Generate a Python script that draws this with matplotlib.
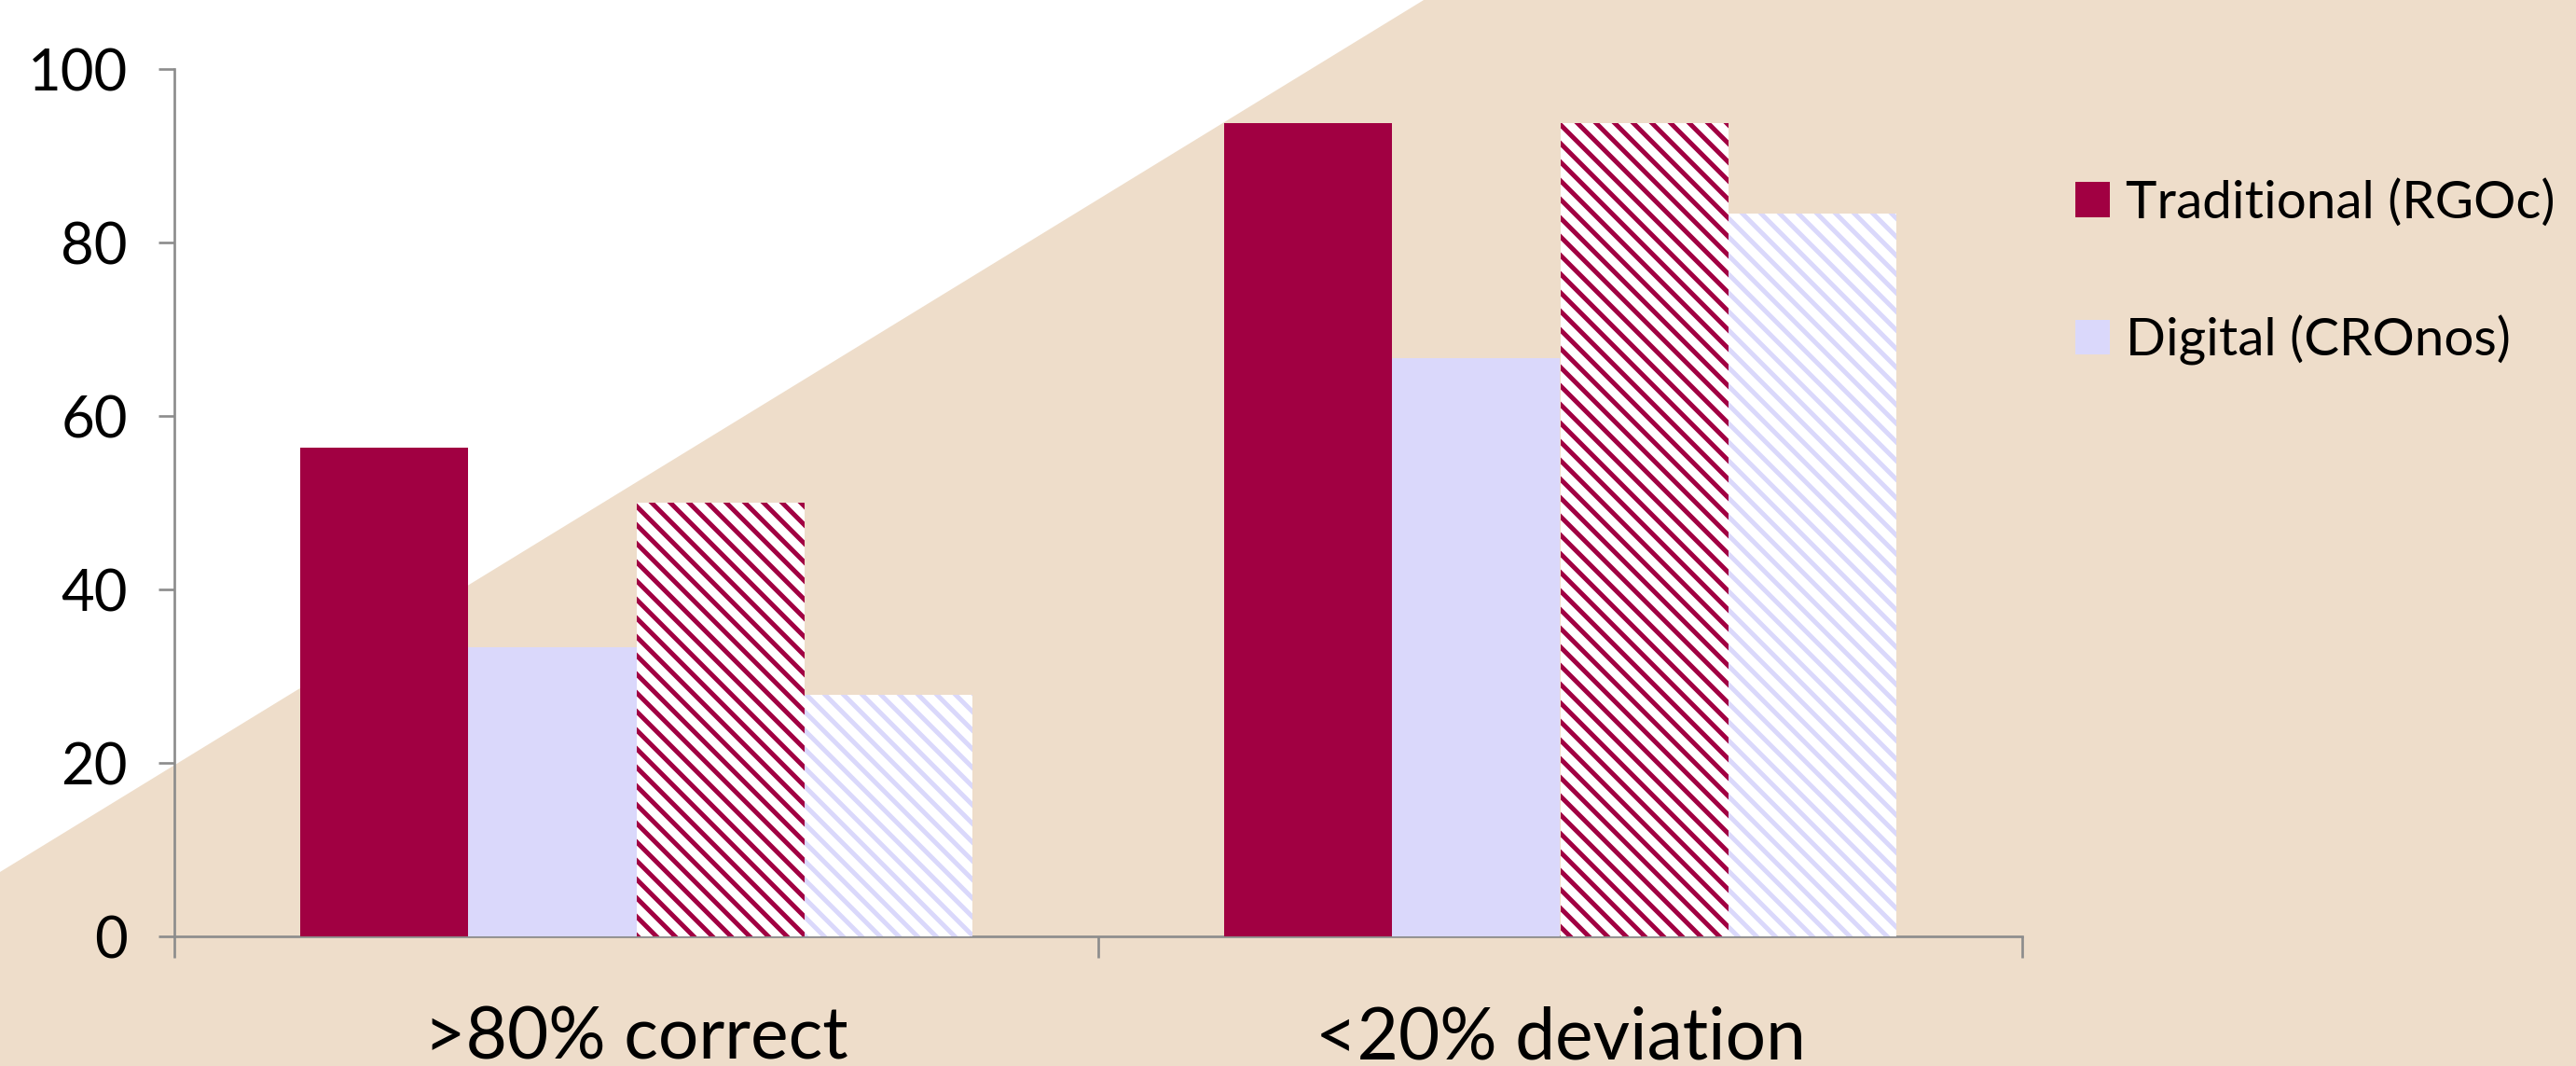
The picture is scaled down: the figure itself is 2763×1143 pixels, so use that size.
import matplotlib
matplotlib.use("Agg")
import matplotlib.pyplot as plt
from matplotlib.patches import Polygon, Patch
import numpy as np

# Data
categories = [">80% correct", "<20% deviation"]
traditional_a = [56.3, 93.8]
digital_a = [33.3, 66.7]
traditional_b = [50.0, 93.8]
digital_b = [27.8, 83.3]
legend_labels = ["Traditional (RGOc)", "Digital (CROnos)"]
y_ticks = [0, 20, 40, 60, 80, 100]

MAROON = "#A10042"
LAVENDER = "#DAD8FB"
BEIGE = "#EEDDCA"
AXIS_GRAY = "#8C8C8C"

plt.rcParams["font.family"] = ["Lato", "DejaVu Sans"]
plt.rcParams["hatch.linewidth"] = 3.0

DPI = 120
fig = plt.figure(figsize=(2763 / DPI, 1143 / DPI), dpi=DPI, facecolor="white")

# Diagonal beige backdrop
bg = Polygon([(0, 0), (0, 0.182), (0.5527, 1.0), (1, 1), (1, 0)],
             closed=True, transform=fig.transFigure, facecolor=BEIGE,
             edgecolor="none", zorder=-10)
fig.patches.append(bg)

ax = fig.add_axes([187 / 2763, 1 - 1004 / 1143, (2169 - 187) / 2763, (1004 - 74) / 1143])
ax.set_facecolor("none")
ax.set_zorder(5)

x = np.arange(len(categories))
w = 0.182
offsets = [-1.5, -0.5, 0.5, 1.5]

ax.bar(x + offsets[0] * w, traditional_a, w, color=MAROON, linewidth=0, zorder=3)
ax.bar(x + offsets[1] * w, digital_a, w, color=LAVENDER, linewidth=0, zorder=3)
ax.bar(x + offsets[2] * w, traditional_b, w, facecolor="white", edgecolor=MAROON,
       hatch="\\\\", linewidth=0, zorder=3)
ax.bar(x + offsets[3] * w, digital_b, w, facecolor="white", edgecolor=LAVENDER,
       hatch="\\\\", linewidth=0, zorder=3)

ax.set_xlim(-0.5, 1.5)
ax.set_ylim(0, 100)
ax.set_yticks(y_ticks)
ax.set_yticklabels([str(v) for v in y_ticks])

ax.set_xticks([-0.5, 0.5, 1.5])
ax.set_xticklabels([])
ax.set_xticks(x, minor=True)
ax.set_xticklabels(categories, minor=True)

for side in ["top", "right"]:
    ax.spines[side].set_visible(False)
for side in ["left", "bottom"]:
    ax.spines[side].set_color(AXIS_GRAY)
    ax.spines[side].set_linewidth(1.6)

ax.tick_params(axis="y", which="major", direction="out", length=10, width=1.6,
               color=AXIS_GRAY, labelsize=37, pad=20)
ax.tick_params(axis="x", which="major", direction="out", length=14, width=1.6,
               color=AXIS_GRAY)
ax.tick_params(axis="x", which="minor", length=0, labelsize=46, pad=45)

handles = [Patch(facecolor=MAROON, edgecolor="none"),
           Patch(facecolor=LAVENDER, edgecolor="none")]
fig.legend(handles, legend_labels, loc="center left",
           bbox_to_anchor=(2226 / 2763, 1 - 292 / 1143), frameon=False,
           fontsize=34, handlelength=0.65, handleheight=0.65,
           handletextpad=0.3, labelspacing=1.65, borderpad=0, borderaxespad=0)

fig.savefig("out.png", dpi=DPI, facecolor="white")
